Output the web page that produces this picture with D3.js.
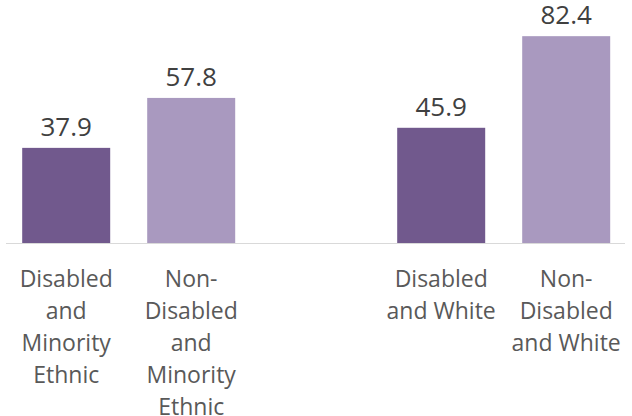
<!DOCTYPE html>
<html>
<head>
<meta charset="utf-8">
<script src="https://cdn.jsdelivr.net/npm/d3@7"></script>
<style>
  html, body { margin: 0; padding: 0; background: #fff; }
  svg { display: block; }
  text { font-family: "Open Sans", sans-serif; }
</style>
</head>
<body>
<script>
// Bar groups: minority ethnic pair, a blank slot, then the white pair
const slots = ["dme", "ndme", "gap", "dw", "ndw"];
const categories = ["dme", "ndme", "dw", "ndw"];
const categoryLines = [
  ["Disabled", "and", "Minority", "Ethnic"],
  ["Non-", "Disabled", "and", "Minority", "Ethnic"],
  ["Disabled", "and White"],
  ["Non-", "Disabled", "and White"]
];
const values = [37.9, 57.8, 45.9, 82.4];
const fills = ["#71598d", "#a999bf", "#71598d", "#a999bf"];

const width = 632, height = 416;
const baseY = 243;

const svg = d3.select("body").append("svg")
  .attr("width", width).attr("height", height);

const x = d3.scaleBand()
  .domain(slots)
  .range([3.7, 628.7])
  .paddingInner(0.296)
  .paddingOuter(0.148);

const y = d3.scaleLinear()
  .domain([0, 90])
  .range([baseY, baseY - 2.51 * 90]);

const data = categories.map((c, i) => ({ c, v: values[i], fill: fills[i], lines: categoryLines[i] }));

// bars
svg.append("g").selectAll("rect")
  .data(data)
  .join("rect")
  .attr("x", d => x(d.c))
  .attr("width", x.bandwidth())
  .attr("y", d => y(d.v))
  .attr("height", d => y(0) - y(d.v))
  .attr("fill", d => d.fill);

// baseline
svg.append("line")
  .attr("x1", 6).attr("x2", 625)
  .attr("y1", y(0) + 0.5).attr("y2", y(0) + 0.5)
  .attr("stroke", "#d9d9d9")
  .attr("stroke-width", 1);

// value labels
svg.append("g").selectAll("text")
  .data(data)
  .join("text")
  .attr("x", d => x(d.c) + x.bandwidth() / 2)
  .attr("y", d => y(d.v) - 12)
  .attr("text-anchor", "middle")
  .attr("font-size", 26)
  .attr("fill", "#404040")
  .text(d => d.v.toFixed(1));

// category labels
const cat = svg.append("g").selectAll("text")
  .data(data)
  .join("text")
  .attr("x", d => x(d.c) + x.bandwidth() / 2)
  .attr("y", 287)
  .attr("text-anchor", "middle")
  .attr("font-size", 23)
  .attr("fill", "#595959");

cat.selectAll("tspan")
  .data(d => d.lines.map(t => ({ t, cx: x(d.c) + x.bandwidth() / 2 })))
  .join("tspan")
  .attr("x", d => d.cx)
  .attr("dy", (d, i) => i === 0 ? 0 : 32)
  .text(d => d.t);
</script>
</body>
</html>
